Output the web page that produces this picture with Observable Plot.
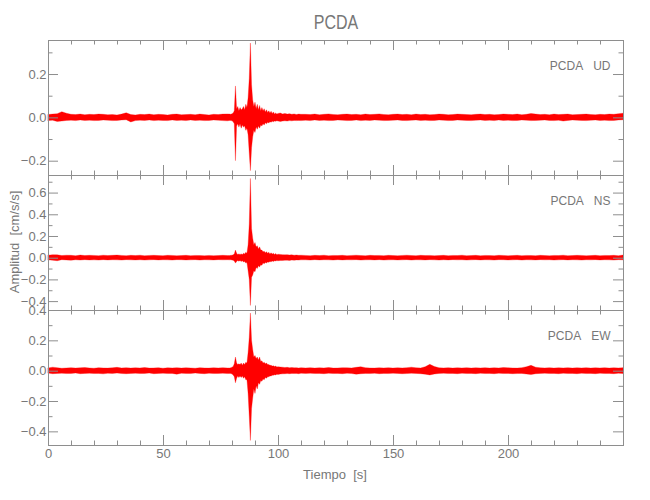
<!DOCTYPE html>
<html><head><meta charset="utf-8">
<script src="https://cdn.jsdelivr.net/npm/d3@7"></script>
<script src="https://cdn.jsdelivr.net/npm/@observablehq/plot@0.6"></script>
<style>
body{margin:0;background:#fff}
#chart{position:relative;width:650px;height:500px;font-family:"Liberation Sans Narrow","Liberation Sans",sans-serif;color:#777;overflow:hidden}
.lbl{position:absolute;white-space:pre;line-height:1}
</style>
</head><body>
<div id="chart"></div>
<script>
// Time axis (s)
const time = [0,2,4,6,8,10,12,14,16,18,20,22,24,26,28,30,32,34,36,38,40,42,44,46,48,50,52,54,56,58,60,62,64,66,68,70,72,74,76,78,
79,79.5,80,80.5,81,81.5,82,82.5,83,83.5,84,84.5,85,85.5,86,86.5,87,87.5,88,88.5,89,89.5,90,90.5,91,91.5,92,92.5,93,93.5,94,94.5,95,95.5,96,96.5,97,97.5,98,98.5,99,99.5,100,
101,102,103,104,105,106,107,108,109,110,
112,114,116,118,120,122,124,126,128,130,132,134,136,138,140,142,144,146,148,150,152,154,156,158,160,162,164,166,168,170,172,174,176,178,180,182,184,186,188,190,192,194,196,198,200,202,204,206,208,210,212,214,216,218,220,222,224,226,228,230,232,234,236,238,240,242,244,246,248,250];

// UD component: upper / lower envelope (cm/s/s)
const udHigh = [
.013,.015,.017,.026,.019,.014,.013,.015,.012,.014,
.013,.015,.014,.012,.013,.011,.015,.021,.013,.011,
.014,.013,.015,.012,.014,.013,.011,.014,.015,.012,
.013,.014,.012,.015,.013,.011,.014,.013,.015,.016,
.015,.014,.017,.02,.03,.145,.04,.05,.03,.045,
.035,.04,.05,.035,.06,.045,.09,.18,.343,.15,
.08,.05,.07,.04,.06,.035,.055,.03,.045,.03,
.04,.025,.035,.022,.03,.02,.028,.018,.025,.016,
.02,.015,.018,
.02,.016,.018,.015,.017,.014,.016,.013,.015,.014,
.014,.013,.015,.012,.014,.016,.013,.012,.014,.015,
.013,.014,.012,.015,.013,.014,.016,.013,.012,.014,
.015,.013,.014,.012,.015,.013,.014,.012,.013,.015,
.014,.012,.013,.015,.014,.013,.012,.014,.015,.013,
.014,.012,.013,.015,.014,.013,.015,.012,.014,.018,
.015,.013,.014,.012,.015,.013,.014,.015,.012,.013,
.014,.015,.013,.012,.014,.013,.015,.014,.017,.019];
const udLow = [
-.015,-.013,-.019,-.017,-.014,-.013,-.015,-.012,-.014,-.013,
-.015,-.014,-.012,-.013,-.015,-.014,-.012,-.011,-.021,-.015,
-.013,-.014,-.012,-.015,-.013,-.014,-.015,-.012,-.014,-.013,
-.015,-.012,-.014,-.013,-.015,-.014,-.012,-.013,-.015,-.016,
-.014,-.015,-.016,-.02,-.03,-.2,-.04,-.03,-.045,-.03,
-.05,-.035,-.045,-.04,-.06,-.05,-.08,-.165,-.246,-.14,
-.09,-.06,-.07,-.045,-.055,-.04,-.05,-.035,-.04,-.03,
-.035,-.025,-.03,-.022,-.026,-.02,-.022,-.018,-.02,-.017,
-.018,-.016,-.017,
-.019,-.017,-.016,-.017,-.015,-.016,-.014,-.015,-.014,-.015,
-.013,-.015,-.012,-.014,-.013,-.015,-.014,-.012,-.013,-.015,
-.014,-.012,-.015,-.013,-.014,-.012,-.013,-.015,-.014,-.013,
-.012,-.014,-.015,-.013,-.012,-.014,-.013,-.015,-.014,-.012,
-.013,-.015,-.014,-.012,-.013,-.014,-.015,-.013,-.012,-.014,
-.013,-.015,-.012,-.014,-.013,-.015,-.014,-.012,-.013,-.015,
-.014,-.013,-.012,-.014,-.015,-.013,-.017,-.014,-.012,-.013,
-.014,-.015,-.013,-.012,-.014,-.013,-.015,-.014,-.012,-.011];

// NS component
const nsHigh = [
.023,.028,.026,.02,.023,.022,.018,.024,.02,.022,
.021,.019,.023,.02,.022,.024,.021,.019,.022,.02,
.023,.018,.021,.022,.02,.019,.022,.021,.018,.02,
.022,.019,.021,.02,.018,.021,.019,.02,.022,.02,
.02,.022,.023,.026,.035,.07,.04,.03,.035,.03,
.035,.03,.04,.035,.05,.04,.12,.31,.73,.27,
.18,.12,.14,.1,.11,.08,.1,.07,.07,.055,
.06,.045,.055,.04,.05,.035,.045,.033,.04,.03,
.038,.028,.032,
.03,.028,.026,.028,.025,.026,.023,.025,.022,.023,
.021,.019,.022,.02,.023,.018,.021,.02,.022,.019,
.021,.023,.02,.018,.022,.02,.021,.019,.022,.02,
.018,.021,.023,.02,.019,.022,.02,.021,.018,.02,
.022,.019,.021,.02,.023,.019,.02,.022,.018,.021,
.02,.019,.022,.021,.018,.02,.022,.019,.021,.02,
.019,.022,.02,.018,.021,.02,.023,.019,.02,.022,
.021,.018,.02,.022,.019,.021,.02,.022,.019,.024];
const nsLow = [
-.02,-.023,-.028,-.018,-.021,-.023,-.019,-.022,-.018,-.021,
-.02,-.022,-.018,-.021,-.019,-.02,-.022,-.018,-.02,-.021,
-.019,-.022,-.02,-.018,-.021,-.019,-.02,-.022,-.018,-.019,
-.021,-.02,-.018,-.022,-.019,-.02,-.021,-.018,-.02,-.019,
-.02,-.019,-.022,-.024,-.03,-.05,-.035,-.025,-.032,-.026,
-.035,-.028,-.04,-.035,-.05,-.045,-.12,-.2,-.44,-.18,
-.16,-.12,-.13,-.09,-.1,-.075,-.085,-.065,-.07,-.05,
-.055,-.045,-.048,-.04,-.042,-.035,-.038,-.031,-.034,-.029,
-.03,-.027,-.028,
-.026,-.025,-.024,-.023,-.025,-.022,-.023,-.021,-.022,-.02,
-.02,-.022,-.018,-.021,-.019,-.02,-.022,-.018,-.021,-.019,
-.02,-.018,-.022,-.02,-.019,-.021,-.018,-.022,-.02,-.019,
-.021,-.02,-.018,-.022,-.019,-.02,-.021,-.018,-.02,-.022,
-.019,-.021,-.018,-.02,-.019,-.022,-.02,-.018,-.021,-.019,
-.02,-.022,-.018,-.019,-.021,-.02,-.018,-.022,-.019,-.02,
-.021,-.018,-.02,-.019,-.022,-.02,-.018,-.021,-.019,-.02,
-.022,-.019,-.02,-.018,-.021,-.019,-.02,-.022,-.018,-.02];

// EW component
const ewHigh = [
.018,.023,.02,.016,.018,.02,.017,.019,.021,.018,
.016,.02,.018,.017,.019,.022,.018,.02,.017,.019,
.018,.021,.017,.018,.02,.016,.019,.018,.02,.017,
.019,.018,.016,.02,.018,.017,.019,.018,.02,.018,
.018,.02,.023,.028,.045,.09,.05,.04,.045,.04,
.05,.035,.05,.04,.055,.05,.12,.22,.38,.2,
.14,.09,.1,.08,.09,.07,.09,.06,.065,.05,
.055,.045,.05,.04,.04,.035,.035,.03,.032,.027,
.03,.025,.026,
.024,.023,.021,.022,.02,.021,.019,.02,.018,.02,
.018,.02,.017,.019,.018,.021,.017,.018,.02,.019,
.018,.022,.026,.02,.018,.017,.019,.018,.02,.017,
.019,.018,.02,.023,.019,.018,.026,.042,.028,.019,
.018,.02,.017,.019,.018,.02,.017,.019,.018,.02,
.017,.019,.018,.021,.019,.018,.017,.02,.026,.035,
.023,.019,.018,.02,.017,.019,.018,.02,.017,.019,
.018,.02,.017,.019,.018,.02,.017,.019,.018,.02];
const ewLow = [
-.016,-.02,-.018,-.017,-.019,-.018,-.016,-.02,-.018,-.017,
-.019,-.018,-.021,-.017,-.018,-.016,-.019,-.02,-.018,-.017,
-.019,-.018,-.016,-.02,-.018,-.017,-.019,-.018,-.023,-.017,
-.018,-.019,-.016,-.018,-.02,-.017,-.019,-.018,-.017,-.019,
-.018,-.019,-.022,-.028,-.04,-.08,-.05,-.035,-.045,-.035,
-.045,-.035,-.05,-.04,-.06,-.06,-.15,-.3,-.46,-.25,
-.18,-.12,-.15,-.1,-.12,-.08,-.09,-.065,-.07,-.055,
-.06,-.045,-.05,-.04,-.04,-.035,-.035,-.03,-.03,-.027,
-.028,-.024,-.025,
-.022,-.021,-.02,-.019,-.02,-.018,-.019,-.018,-.02,-.017,
-.018,-.017,-.019,-.018,-.02,-.017,-.019,-.018,-.02,-.017,
-.019,-.023,-.02,-.018,-.019,-.017,-.02,-.018,-.019,-.017,
-.018,-.02,-.019,-.017,-.018,-.02,-.023,-.028,-.022,-.018,
-.017,-.019,-.018,-.02,-.017,-.019,-.018,-.02,-.017,-.019,
-.018,-.02,-.017,-.019,-.018,-.02,-.019,-.018,-.022,-.026,
-.02,-.018,-.017,-.019,-.018,-.02,-.017,-.019,-.018,-.02,
-.017,-.019,-.018,-.02,-.017,-.019,-.018,-.02,-.017,-.019];

// Axis ticks
const xMajor = [0,50,100,150,200];
const xMinor = [10,20,30,40,60,70,80,90,110,120,130,140,160,170,180,190,210,220,230,240];
const udDomain = [-0.266, 0.357], udMajor = [-0.2,0,0.2], udMinor = [-0.1,0.1,0.3];
const nsDomain = [-0.482, 0.762], nsMajor = [-0.4,-0.2,0,0.2,0.4,0.6], nsMinor = [-0.3,-0.1,0.1,0.3,0.5,0.7];
const ewDomain = [-0.49, 0.4], ewMajor = [-0.4,-0.2,0,0.2,0.4], ewMinor = [-0.3,-0.1,0.1,0.3];

const stationName = "PCDA";
const titles = {x: "Tiempo  [s]", y: "Amplitud  [cm/s/s]"};

const chart = document.getElementById("chart");
const gray = "#8e8e8e";
const textGray = "#777";
const W = 575, H = 135;

function panel(high, low, domain, major, minor, comp, frameTop, isBottom) {
  if (high.length !== time.length || low.length !== time.length)
    throw new Error(comp + " length mismatch " + high.length + " " + low.length + " vs " + time.length);
  const data = time.map((t, i) => ({t, hi: high[i], lo: low[i]}));
  const marks = [
    Plot.areaY(data, {x: "t", y1: "lo", y2: "hi", fill: "#ff0000", stroke: "#ff0000", strokeWidth: 0.3}),
    Plot.tickY(major, {y: d => d, stroke: gray, insetRight: W - 10}),
    Plot.tickY(major, {y: d => d, stroke: gray, insetLeft: W - 10}),
    Plot.tickY(minor, {y: d => d, stroke: gray, insetRight: W - 4.5}),
    Plot.tickY(minor, {y: d => d, stroke: gray, insetLeft: W - 4.5}),
    Plot.tickX(xMajor, {x: d => d, stroke: gray, insetBottom: H - 10}),
    Plot.tickX(xMajor, {x: d => d, stroke: gray, insetTop: H - 10}),
    Plot.tickX(xMinor, {x: d => d, stroke: gray, insetBottom: H - 4.5}),
    Plot.tickX(xMinor, {x: d => d, stroke: gray, insetTop: H - 4.5}),
    Plot.frame({stroke: gray}),
    Plot.axisY({ticks: major, tickSize: 0, tickPadding: 2, tickFormat: d3.format(".1f"), fontSize: 13, fill: textGray, label: null}),
    Plot.text([stationName + "\u00a0\u00a0\u00a0" + comp], {frameAnchor: "top-right", dx: -13, dy: 21, text: d => d, fontSize: 12, fill: textGray})
  ];
  if (isBottom) marks.push(Plot.axisX({ticks: xMajor, tickSize: 0, tickPadding: 3, tickFormat: d => String(d), fontSize: 13, fill: textGray, label: null}));
  const svg = Plot.plot({
    width: 650,
    height: H + 10 + (isBottom ? 25 : 10),
    marginLeft: 48, marginRight: 27, marginTop: 10, marginBottom: isBottom ? 25 : 10,
    x: {domain: [0, 250], axis: isBottom ? undefined : null, label: null},
    y: {domain, label: null},
    style: {background: "none", fontFamily: "'Liberation Sans Narrow','Liberation Sans',sans-serif", fontSize: "13px", color: textGray, overflow: "visible"},
    marks
  });
  svg.style.position = "absolute";
  svg.style.left = "0px";
  svg.style.top = (frameTop - 10) + "px";
  chart.appendChild(svg);
}

panel(udHigh, udLow, udDomain, udMajor, udMinor, "UD", 40, false);
panel(nsHigh, nsLow, nsDomain, nsMajor, nsMinor, "NS", 175, false);
panel(ewHigh, ewLow, ewDomain, ewMajor, ewMinor, "EW", 310, true);

function label(text, x, y, size, transform) {
  const d = document.createElement("div");
  d.className = "lbl";
  d.textContent = text;
  d.style.left = x + "px";
  d.style.top = y + "px";
  d.style.fontSize = size + "px";
  d.style.transform = "translate(-50%,-50%) " + (transform || "");
  chart.appendChild(d);
}
label(stationName, 336, 22, 20, "scaleX(0.8)");
label(titles.x, 335, 474, 13);
label(titles.y, 14, 242, 13, "rotate(-90deg)");
</script>
</body></html>
